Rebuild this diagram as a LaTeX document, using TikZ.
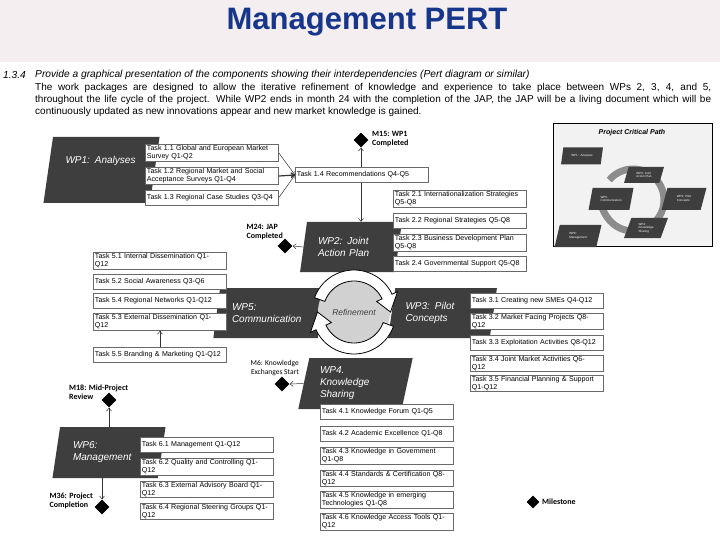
\documentclass[tikz,border=0pt]{standalone}
\usepackage{fontspec}
\setmainfont{Liberation Sans}
\newfontfamily\msfont{Carlito}
\usetikzlibrary{shapes.geometric,arrows.meta}

\definecolor{wpgray}{RGB}{62,62,62}
\definecolor{titleblue}{RGB}{22,54,140}
\definecolor{barpink}{RGB}{245,238,240}
\definecolor{taskline}{RGB}{105,105,105}

\newcommand{\fullline}[1]{\makebox[676pt][s]{#1}}

\begin{document}
\begin{tikzpicture}[
  x=1pt, y=-1pt,
  wp/.style={trapezium, trapezium left angle=76, trapezium right angle=104, trapezium stretches=true,
    fill=wpgray, text=white, font=\fontsize{10}{12}\selectfont\itshape, align=left, inner sep=1pt},
  task/.style={draw=taskline, line width=0.9pt, fill=white, anchor=west, text width=130pt, inner xsep=1.5pt,
    inner ysep=1.2pt, minimum height=15pt, align=left, font=\fontsize{7.1}{7.9}\selectfont},
  mstone/.style={diamond, fill=black, inner sep=0pt, minimum size=15pt},
  mslabel/.style={font=\msfont\bfseries\fontsize{8}{9}\selectfont, align=left, inner sep=0pt},
  conn/.style={draw=black!80, line width=0.5pt, -{Straight Barb[length=3pt,width=5pt]}},
  para/.style={anchor=west, inner sep=0pt, font=\fontsize{10}{12}\selectfont},
  mini/.style={trapezium, trapezium left angle=70, trapezium right angle=110, trapezium stretches=true,
    fill=wpgray, text=white, font=\fontsize{3}{3.6}\selectfont, align=left, inner sep=0.5pt}
]
  \useasboundingbox (0,0) rectangle (720,540);
  \fill[barpink] (0,0) rectangle (720,62);

  % Title and text
  \node[font=\bfseries\fontsize{31}{34}\selectfont, text=titleblue] (title) at (367,22) {Management PERT};
  \node[para, font=\fontsize{10.2}{12}\selectfont\itshape] (secnum) at (3,75) {1.3.4};
  \node[para, font=\fontsize{10.2}{12}\selectfont\itshape] (secq) at (35,75)
    {Provide a graphical presentation of the components showing their interdependencies (Pert diagram or similar)};
  \node[para] (p1) at (35,88)
    {\fullline{The work packages are designed to allow the iterative refinement of knowledge and experience to take place between WPs 2, 3, 4, and 5,}};
  \node[para] (p2) at (35,100)
    {\fullline{throughout the life cycle of the project. While WP2 ends in month 24 with the completion of the JAP, the JAP will be a living document which will be}};
  \node[para] (p3) at (35,112)
    {continuously updated as new innovations appear and new market knowledge is gained.};

  % Work packages
  \node[wp, minimum width=117pt, minimum height=66pt, text width=72pt, text depth=20pt] (wp1) at (101.5,170) {WP1: Analyses};
  \node[wp, minimum width=102pt, minimum height=50pt, text width=66pt] (wp2) at (351,247) {WP2: Joint\\Action Plan};
  \node[wp, minimum width=112pt, minimum height=50pt, text width=74pt] (wp5) at (269,313) {WP5:\\Communication};
  \node[wp, minimum width=109pt, minimum height=50pt, text width=74pt] (wp3) at (442.5,313) {WP3: Pilot\\Concepts};
  \node[wp, minimum width=115pt, minimum height=51pt, text width=71pt] (wp4) at (355.5,383.5) {WP4.\\Knowledge\\Sharing};
  \node[wp, minimum width=114pt, minimum height=51pt, text width=72pt] (wp6) at (109,452.5) {WP6:\\Management};

  % Refinement loop
  \begin{scope}[shift={(354,312)}, yscale=-1]
    \fill[black!18] (0,0) circle[radius=36];
    \foreach \r in {0,180}{
      \filldraw[rotate=\r, fill=white, draw=black, line width=0.8pt]
        (160:42) arc[start angle=160, end angle=25, radius=42] -- (25:48) -- (0:36.5)
        -- (25:25) -- (25:31) arc[start angle=25, end angle=160, radius=31] -- cycle;
    }
  \end{scope}
  \node[font=\fontsize{8.5}{10}\selectfont\itshape, text=black!75] (refine) at (354,312) {Refinement};

  % WP1 tasks
  \node[task] (t11) at (145,153) {Task 1.1 Global and European Market\\Survey Q1-Q2};
  \node[task] (t12) at (145,176) {Task 1.2 Regional Market and Social\\Acceptance Surveys Q1-Q4};
  \node[task] (t13) at (145,197.5) {Task 1.3 Regional Case Studies Q3-Q4};
  \node[task] (t14) at (295,175) {Task 1.4 Recommendations Q4-Q5};

  % WP2 tasks
  \node[task] (t21) at (393,199) {Task 2.1 Internationalization Strategies\\Q5-Q8};
  \node[task] (t22) at (393,221) {Task 2.2 Regional Strategies Q5-Q8};
  \node[task] (t23) at (393,243) {Task 2.3 Business Development Plan\\Q5-Q8};
  \node[task] (t24) at (393,264) {Task 2.4 Governmental Support Q5-Q8};

  % WP5 tasks
  \node[task] (t51) at (93,261) {Task 5.1 Internal Dissemination Q1-\\Q12};
  \node[task] (t52) at (93,282) {Task 5.2 Social Awareness Q3-Q6};
  \node[task] (t54) at (93,301) {Task 5.4 Regional Networks Q1-Q12};
  \node[task] (t53) at (93,322) {Task 5.3 External Dissemination Q1-\\Q12};
  \node[task] (t55) at (93,355) {Task 5.5 Branding \& Marketing Q1-Q12};

  % WP3 tasks
  \node[task] (t31) at (470,300.5) {Task 3.1 Creating new SMEs Q4-Q12};
  \node[task] (t32) at (470,321.5) {Task 3.2 Market Facing Projects Q8-\\Q12};
  \node[task] (t33) at (470,342.5) {Task 3.3 Exploitation Activities Q8-Q12};
  \node[task] (t34) at (470,363.5) {Task 3.4 Joint Market Activities Q6-\\Q12};
  \node[task] (t35) at (470,383.5) {Task 3.5 Financial Planning \& Support\\Q1-Q12};

  % WP4 tasks
  \node[task] (t41) at (320,412) {Task 4.1 Knowledge Forum Q1-Q5};
  \node[task] (t42) at (320,434) {Task 4.2 Academic Excellence Q1-Q8};
  \node[task] (t43) at (320,456) {Task 4.3 Knowledge in Government\\Q1-Q8};
  \node[task] (t44) at (320,478.5) {Task 4.4 Standards \& Certification Q8-\\Q12};
  \node[task] (t45) at (320,500) {Task 4.5 Knowledge in emerging\\Technologies Q1-Q8};
  \node[task] (t46) at (320,522) {Task 4.6 Knowledge Access Tools Q1-\\Q12};

  % WP6 tasks
  \node[task] (t61) at (140,445) {Task 6.1 Management Q1-Q12};
  \node[task] (t62) at (140,467) {Task 6.2 Quality and Controlling Q1-\\Q12};
  \node[task] (t63) at (140,489.5) {Task 6.3 External Advisory Board Q1-\\Q12};
  \node[task] (t64) at (140,511.5) {Task 6.4 Regional Steering Groups Q1-\\Q12};

  % Milestones
  \node[mstone] (m15) at (361,140) {};
  \node[mslabel, anchor=west] (m15l) at (372,139) {M15: WP1\\Completed};
  \node[mstone] (m24) at (285,246) {};
  \node[mslabel, anchor=south east] (m24l) at (283,240) {M24: JAP\\Completed};
  \node[mstone] (m6) at (282,384) {};
  \node[font=\msfont\fontsize{7.5}{9}\selectfont, align=right, inner sep=0pt, anchor=south east] (m6l) at (299,376)
    {M6: Knowledge\\Exchanges Start};
  \node[mstone] (m18) at (109,400) {};
  \node[mslabel, anchor=south west] (m18l) at (69,400) {M18: Mid-Project\\Review};
  \node[mstone] (m36) at (102,507) {};
  \node[mslabel, anchor=east] (m36l) at (93,501) {M36: Project\\Completion};
  \node[mstone, minimum size=13pt] (legend) at (533,502) {};
  \node[font=\msfont\bfseries\fontsize{8}{9}\selectfont, anchor=west, inner sep=0pt] (legendl) at (542,502) {Milestone};

  % Connectors
  \draw[conn] (t11.east) -- (t14.west);
  \draw[conn, line width=1.2pt] (t12.east) -- (t14.west);
  \draw[conn] (t13.east) -- (t14.west);
  \draw[conn] (m15.south |- t14.north) -- (m15.south);
  \draw[conn] (m15.south |- t14.south) -- (m15.south |- wp2.north);
  \draw[conn] (wp2.west) -- (m24.east);
  \draw[conn] (wp4.west) -- (m6.east);
  \draw[conn] (m18.south |- wp6.north) -- (m18.south);
  \draw[conn] (m36.north |- wp6.south) -- (m36.north);
  \draw[conn] (t55.north) -- (t53.south);

  % Project critical path inset
  \node[draw=black, line width=0.8pt, fill=black!5, minimum width=159pt, minimum height=123pt, inner sep=0pt] (inset) at (632.5,184.5) {};
  \node[font=\bfseries\itshape\fontsize{7}{8}\selectfont] (insetl) at (632,133) {Project Critical Path};
  \begin{scope}[shift={(633,200)}, yscale=-1]
    \draw[black!45, line width=7pt, -{Triangle[length=8pt,width=13pt]}] (140:31)
      arc[start angle=140, end angle=-190, radius=31];
  \end{scope}
  \node[mini, minimum width=42pt, minimum height=17pt] (c1) at (582,156) {WP1 : Analyses};
  \node[mini, minimum width=40pt, minimum height=16pt] (c2) at (644,175) {WP2: Joint\\Action Plan};
  \node[mini, minimum width=45pt, minimum height=22pt] (c5) at (611,199) {WP5:\\Communication};
  \node[mini, minimum width=45pt, minimum height=22pt] (c3) at (684,199) {WP3: Pilot\\Concepts};
  \node[mini, minimum width=44pt, minimum height=20pt] (c4) at (646,228) {WP4:\\Knowledge\\Sharing};
  \node[mini, minimum width=47pt, minimum height=22pt] (c6) at (578,236) {WP6:\\Management};
\end{tikzpicture}
\end{document}
